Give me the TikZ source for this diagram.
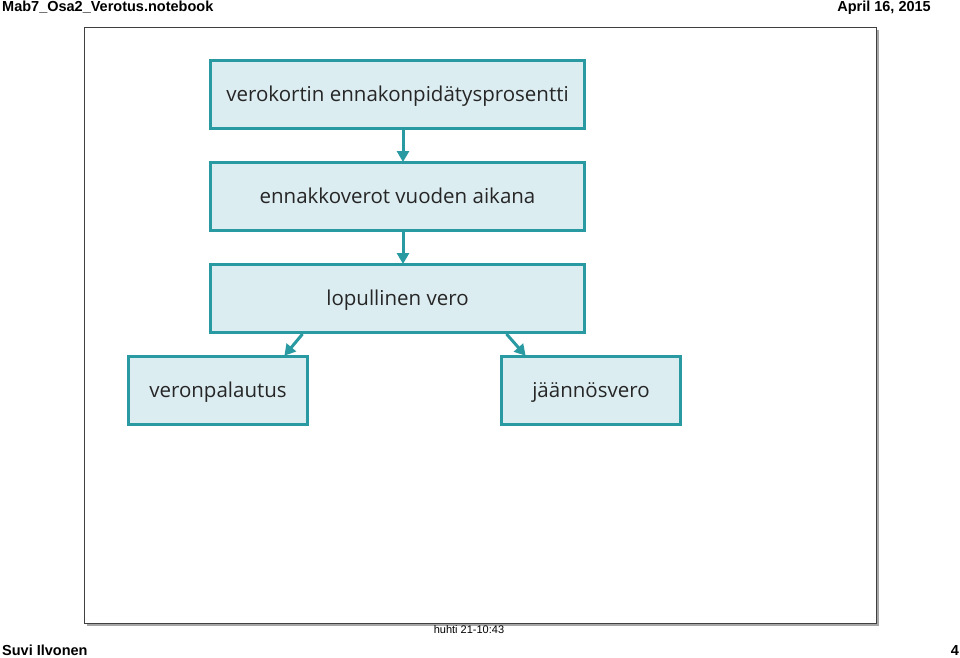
\documentclass[tikz,border=0pt]{standalone}
\usepackage{fontspec}
\setmainfont{Liberation Sans}
\newfontfamily\boxfont{Open Sans}
\newfontfamily\hdrfont{Liberation Sans}
\usepackage{tikz}
\usetikzlibrary{arrows.meta, positioning}
\definecolor{tealline}{HTML}{2A9AA2}
\definecolor{boxfill}{HTML}{DCEDF2}
\definecolor{boxtext}{HTML}{262626}

\begin{document}
\begin{tikzpicture}[
      x=1pt, y=-1pt,
      node distance=31pt,
      box/.style={rectangle, draw=tealline, fill=boxfill, line width=3pt,
                  minimum width=374pt, minimum height=68pt, inner sep=0pt,
                  font=\boxfont\fontsize{20.5}{24}\selectfont, text=boxtext,
                  text depth=2pt, align=center},
      small/.style={box, minimum width=179pt},
      arr/.style={-{Triangle[length=11pt, width=12pt]}, line width=3pt,
                  draw=tealline, shorten >=-1pt},
      hdr/.style={inner sep=0pt, font=\hdrfont\bfseries\fontsize{14.5}{16}\selectfont},
    ]
    \useasboundingbox (0,0) rectangle (960,657);
    % page frame with shadow
    \fill[gray!70] (87,30) rectangle (879,626);
    \draw[fill=white, draw=black!75, line width=0.8pt] (84,27) rectangle (876,623);

    \node[hdr, anchor=base west] (title) at (2,11.5) {Mab7\_Osa2\_Verotus.notebook};
    \node[hdr, anchor=base east] (date)  at (931,11.5) {April 16, 2015};
    \node[hdr, anchor=base west] (author) at (2,655) {Suvi Ilvonen};
    \node[hdr, anchor=base east] (page)  at (959,655) {4};
    \node[inner sep=0pt, anchor=base, font=\hdrfont\fontsize{11}{12}\selectfont]
         (stamp) at (469,633.5) {huhti 21-10:43};

    % flow of the boxes
    \node[box]   (prosentti) at (397.5,94.5) {verokortin ennakonpidätysprosentti};
    \node[box]   (ennakko)   [below=of prosentti] {ennakkoverot vuoden aikana};
    \node[box]   (lopullinen)[below=of ennakko]   {lopullinen vero};
    \node[small] (palautus)  [below=21pt of lopullinen, xshift=-179.5pt] {veronpalautus};
    \node[small] (jaannos)   [below=21pt of lopullinen, xshift=193.5pt]  {jäännösvero};

    \draw[arr] ([xshift=5.5pt]prosentti.south) -- ([xshift=5.5pt]ennakko.north);
    \draw[arr] ([xshift=5.5pt]ennakko.south)   -- ([xshift=5.5pt]lopullinen.north);
    \draw[arr] ([xshift=-95pt]lopullinen.south) -- ([xshift=67pt]palautus.north);
    \draw[arr] ([xshift=109pt]lopullinen.south) -- ([xshift=-66pt]jaannos.north);
  \end{tikzpicture}
\end{document}
